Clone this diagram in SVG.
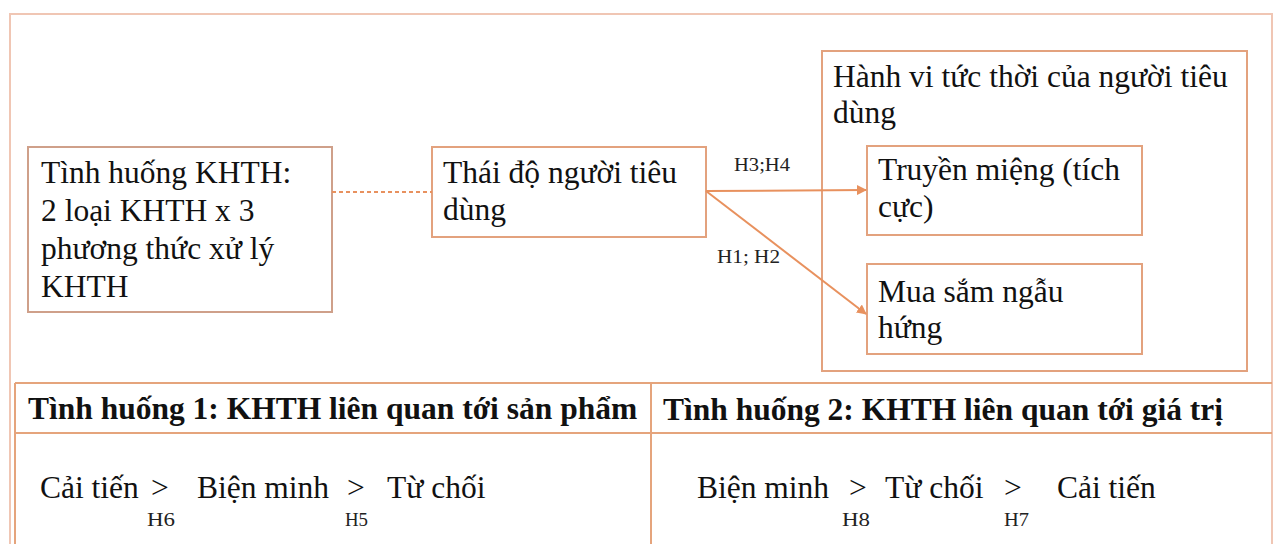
<svg xmlns="http://www.w3.org/2000/svg" width="1279" height="544" viewBox="0 0 1279 544">
  <style>
    .t { font-family: "Liberation Serif", "Times New Roman", serif; font-size: 31.5px; fill: #111111; }
    .b { font-family: "Liberation Serif", "Times New Roman", serif; font-size: 31.5px; font-weight: bold; fill: #111111; }
    .s { font-family: "Liberation Serif", "Times New Roman", serif; font-size: 18px; fill: #222222; }
    .box { fill: #ffffff; stroke: #E3A27E; stroke-width: 2; }
    .frame { fill: #ffffff; stroke: #F0C6B4; stroke-width: 2; }
    .tbl { fill: none; stroke: #E5A47C; stroke-width: 2; }
    .conn { stroke: #E8915E; stroke-width: 2; fill: none; }
  </style>
  <defs>
    <marker id="ah" viewBox="0 0 10 10" refX="9" refY="5" markerWidth="5" markerHeight="5" orient="auto" markerUnits="strokeWidth">
      <path d="M0,0 L10,5 L0,10 z" fill="#E8915E"/>
    </marker>
  </defs>
  <rect x="0" y="0" width="1279" height="544" fill="#ffffff"/>
  <rect id="frame" class="frame" x="10" y="14" width="1262" height="540"/>

  <g id="node-tinh-huong">
    <rect class="box" x="28" y="147" width="304" height="165" style="stroke:#CFA08A"/>
    <text class="t" x="41" y="183">Tình huống KHTH:</text>
    <text class="t" x="41" y="221">2 loại KHTH x 3</text>
    <text class="t" x="41" y="259">phương thức xử lý</text>
    <text class="t" x="41" y="297">KHTH</text>
  </g>

  <g id="node-thai-do">
    <rect class="box" x="432" y="147" width="274" height="90"/>
    <text class="t" x="443" y="183">Thái độ người tiêu</text>
    <text class="t" x="443" y="220">dùng</text>
  </g>

  <g id="node-hanh-vi">
    <rect class="box" x="822" y="51" width="425" height="320"/>
    <text class="t" x="833" y="87">Hành vi tức thời của người tiêu</text>
    <text class="t" x="833" y="123">dùng</text>
  </g>

  <g id="node-truyen-mieng">
    <rect class="box" x="867" y="146" width="275" height="89"/>
    <text class="t" x="878" y="180">Truyền miệng (tích</text>
    <text class="t" x="878" y="217">cực)</text>
  </g>

  <g id="node-mua-sam">
    <rect class="box" x="867" y="264" width="275" height="90"/>
    <text class="t" x="878" y="302">Mua sắm ngẫu</text>
    <text class="t" x="878" y="338">hứng</text>
  </g>

  <g id="connectors">
    <line class="conn" x1="332" y1="192" x2="432" y2="192" stroke-dasharray="4,3" stroke-width="1.5"/>
    <line class="conn" x1="706" y1="191" x2="866" y2="190" marker-end="url(#ah)"/>
    <line class="conn" x1="706" y1="191" x2="866" y2="314" marker-end="url(#ah)"/>
    <text class="s" x="734" y="171" textLength="56" lengthAdjust="spacingAndGlyphs">H3;H4</text>
    <text class="s" x="717" y="263" textLength="63" lengthAdjust="spacingAndGlyphs">H1; H2</text>
  </g>

  <g id="table">
    <line class="tbl" x1="15" y1="383" x2="1272" y2="383"/>
    <line class="tbl" x1="15" y1="433" x2="1272" y2="433"/>
    <line class="tbl" x1="15" y1="383" x2="15" y2="544"/>
    <line class="tbl" x1="651" y1="383" x2="651" y2="544"/>
  </g>

  <g id="case-1">
    <text class="b" x="28" y="419">Tình huống 1: KHTH liên quan tới sản phẩm</text>
    <text class="t" x="40" y="498">Cải tiến</text>
    <text class="t" x="151" y="498">&gt;</text>
    <text class="s" x="147" y="526" textLength="28" lengthAdjust="spacingAndGlyphs">H6</text>
    <text class="t" x="197" y="498">Biện minh</text>
    <text class="t" x="347" y="498">&gt;</text>
    <text class="s" x="345" y="526" textLength="23" lengthAdjust="spacingAndGlyphs">H5</text>
    <text class="t" x="387" y="498">Từ chối</text>
  </g>

  <g id="case-2">
    <text class="b" x="663" y="420">Tình huống 2: KHTH liên quan tới giá trị</text>
    <text class="t" x="697" y="498">Biện minh</text>
    <text class="t" x="849" y="498">&gt;</text>
    <text class="s" x="842" y="526" textLength="28" lengthAdjust="spacingAndGlyphs">H8</text>
    <text class="t" x="885" y="498">Từ chối</text>
    <text class="t" x="1004" y="498">&gt;</text>
    <text class="s" x="1004" y="526" textLength="25" lengthAdjust="spacingAndGlyphs">H7</text>
    <text class="t" x="1057" y="498">Cải tiến</text>
  </g>
</svg>
